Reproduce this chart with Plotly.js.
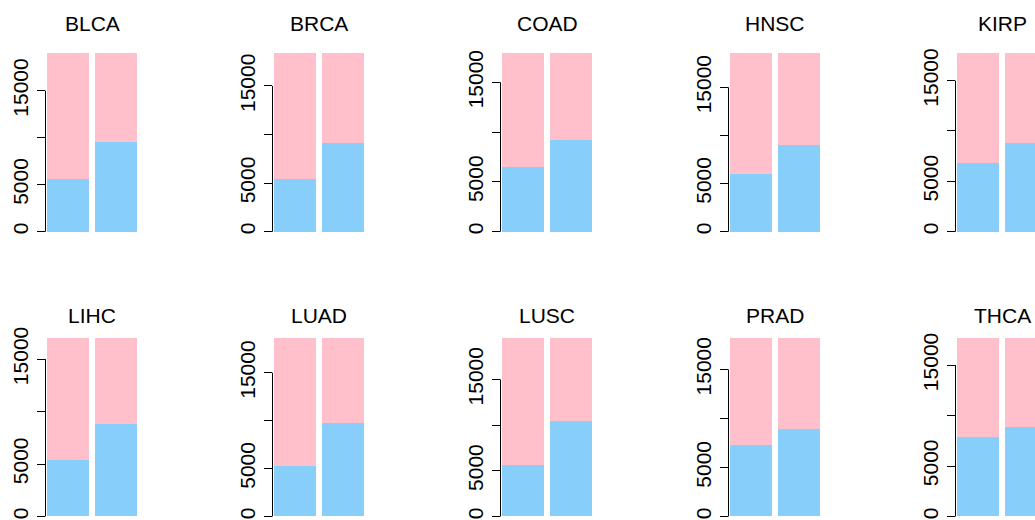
<!DOCTYPE html>
<html>
<head>
<meta charset="utf-8">
<script src="https://cdn.plot.ly/plotly-3.0.1.min.js"></script>
<style>
html,body{margin:0;padding:0;overflow:hidden;background:#fff;}
#chart{width:1138px;height:570px;}
</style>
</head>
<body>
<div id="chart"></div>
<script>
// Data
const cancers = ["BLCA","BRCA","COAD","HNSC","KIRP","LIHC","LUAD","LUSC","PRAD","THCA"];
const groups = ["Group 1","Group 2"];
// lower (blue) segment of each bar
const blueValues = [
  [5600, 9570],
  [5420, 9130],
  [6500, 9170],
  [6030, 8970],
  [6790, 8810],
  [5420, 8780],
  [5280, 9720],
  [5640, 10480],
  [7260, 8890],
  [7850, 8900]
];
// upper (pink) segment of each bar
const pinkValues = [
  [13370, 9400],
  [12940, 9230],
  [11410, 8740],
  [12500, 9560],
  [10920, 8900],
  [11580, 8220],
  [13330, 8890],
  [13870, 9030],
  [10930, 9300],
  [9820, 8770]
];
const tickValues = [0, 5000, 10000, 15000];
const tickLabels = ["0", "5000", "", "15000"];

const W = 1138, H = 570;
const colLefts = [45.5, 272.5, 500.5, 728.5, 955.5];
const rowTops = [46.2, 331.0];
const titleY = [23.5, 315.8];
const plotW = 93.3, plotH = 192.6;

const traces = [];
const layout = {
  width: W, height: H,
  margin: {l:0, r:0, t:0, b:0},
  paper_bgcolor: "#fff", plot_bgcolor: "#fff",
  barmode: "stack",
  showlegend: false,
  font: {family: "Liberation Sans, Arial, sans-serif", color: "#000"},
  annotations: [], shapes: []
};

cancers.forEach((name, i) => {
  const r = Math.floor(i / 5), c = i % 5;
  const sfx = i === 0 ? "" : String(i + 1);
  const xa = "x" + sfx, ya = "y" + sfx;
  const left = colLefts[c], top = rowTops[r];
  traces.push({
    type: "bar", x: groups, y: blueValues[i], xaxis: xa, yaxis: ya,
    marker: {color: "#87CEFA", line: {width: 0}}, width: 0.863, hoverinfo: "y"
  });
  traces.push({
    type: "bar", x: groups, y: pinkValues[i], xaxis: xa, yaxis: ya,
    marker: {color: "#FFC0CB", line: {width: 0}}, width: 0.863, hoverinfo: "y"
  });
  const total = Math.max(blueValues[i][0] + pinkValues[i][0], blueValues[i][1] + pinkValues[i][1]);
  layout["xaxis" + sfx] = {
    domain: [left / W, (left + plotW) / W],
    anchor: ya, range: [-0.459, 1.459], type: "category",
    showticklabels: false, showgrid: false, zeroline: false, showline: false, ticks: ""
  };
  layout["yaxis" + sfx] = {
    domain: [1 - (top + plotH) / H, 1 - top / H],
    anchor: xa, range: [-0.04 * total, 1.04 * total],
    tickmode: "array", tickvals: tickValues, ticktext: tickLabels,
    ticks: "outside", ticklen: 8, tickwidth: 1, tickcolor: "#000",
    tickangle: -90, ticklabelstandoff: 0,
    tickfont: {size: 21, family: "Liberation Sans, Arial, sans-serif", color: "#000"},
    showgrid: false, zeroline: false, showline: false
  };
  layout.shapes.push({
    type: "line", xref: xa + " domain", yref: ya,
    x0: 0, x1: 0, y0: tickValues[0], y1: tickValues[tickValues.length - 1],
    line: {color: "#000", width: 1}
  });
  layout.annotations.push({
    text: name, xref: "paper", yref: "paper",
    x: (left + plotW / 2) / W, y: 1 - titleY[r] / H,
    xanchor: "center", yanchor: "middle", showarrow: false,
    font: {size: 21, family: "Liberation Sans, Arial, sans-serif", color: "#000"}
  });
});

Plotly.newPlot("chart", traces, layout, {displayModeBar: false, staticPlot: true});
</script>
</body>
</html>
